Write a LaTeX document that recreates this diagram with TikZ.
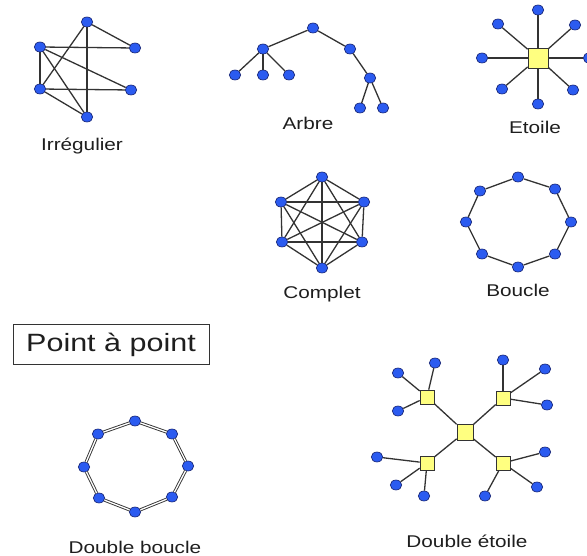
\documentclass[tikz,border=0pt]{standalone}
\usepackage{fontspec}
\setmainfont[FakeStretch=1.22]{Liberation Sans}
\usetikzlibrary{shapes.geometric}
\definecolor{pcblue}{HTML}{2B5BF0}
\definecolor{pcedge}{HTML}{14206E}
\definecolor{hubfill}{HTML}{FFFF80}
\definecolor{lnkcol}{HTML}{333333}
\definecolor{txtcol}{HTML}{1E1E1E}
\begin{document}
\begin{tikzpicture}[x=1pt,y=-1pt,
 pc/.style={ellipse,fill=pcblue,draw=pcedge,line width=0.6pt,minimum width=11.5pt,minimum height=10pt,inner sep=0pt},
 hub/.style={rectangle,fill=hubfill,draw=lnkcol,line width=0.7pt,minimum size=14pt,inner sep=0pt},
 lnk/.style={draw=lnkcol,line width=1.3pt},
 dlnk/.style={draw=lnkcol,line width=0.9pt,double=white,double distance=1.3pt},
 lbl/.style={font=\fontsize{17}{20}\selectfont,text=txtcol,inner sep=0pt,anchor=base}]
\useasboundingbox (0,0) rectangle (587,556);
\clip (0,0) rectangle (587,556);

% ---------- Irregulier ----------
\node[pc] (i1) at (87,22) {};
\node[pc] (i2) at (40,47) {};
\node[pc] (i3) at (135,48) {};
\node[pc] (i4) at (40,89) {};
\node[pc] (i5) at (131,90) {};
\node[pc] (i6) at (87,117) {};
\foreach \a/\b in {i2/i3,i2/i4,i2/i5,i2/i6,i1/i3,i1/i4,i1/i6,i4/i5,i4/i6}
  \draw[lnk] (\a) -- (\b);
\node[lbl] (tirr) at (82,151) {Irrégulier};

% ---------- Arbre ----------
\node[pc] (a0) at (313,28) {};
\node[pc] (a1) at (263,49) {};
\node[pc] (a2) at (350,49) {};
\node[pc] (a3) at (235,75) {};
\node[pc] (a4) at (263,75) {};
\node[pc] (a5) at (289,75) {};
\node[pc] (a6) at (370,78) {};
\node[pc] (a7) at (360,108) {};
\node[pc] (a8) at (383,108) {};
\foreach \a/\b in {a0/a1,a0/a2,a1/a3,a1/a4,a1/a5,a2/a6,a6/a7,a6/a8}
  \draw[lnk] (\a) -- (\b);
\node[lbl] (tarb) at (308,130) {Arbre};

% ---------- Etoile ----------
\node[hub,minimum size=20pt] (e0) at (538,58) {};
\node[pc] (e1) at (538,10) {};
\node[pc] (e2) at (498,24) {};
\node[pc] (e3) at (575,25) {};
\node[pc] (e4) at (482,58) {};
\node[pc] (e5) at (589,58) {};
\node[pc] (e6) at (502,89) {};
\node[pc] (e7) at (573,90) {};
\node[pc] (e8) at (538,104) {};
\foreach \b in {e1,e2,e3,e4,e5,e6,e7,e8}
  \draw[lnk] (e0) -- (\b);
\node[lbl] (teto) at (535,134) {Etoile};

% ---------- Complet ----------
\node[pc] (c1) at (322,177) {};
\node[pc] (c2) at (364,202) {};
\node[pc] (c3) at (362,242) {};
\node[pc] (c4) at (322,268) {};
\node[pc] (c5) at (282,242) {};
\node[pc] (c6) at (281,202) {};
\foreach \a/\b in {c1/c2,c1/c3,c1/c4,c1/c5,c1/c6,c2/c3,c2/c4,c2/c5,c2/c6,c3/c4,c3/c5,c3/c6,c4/c5,c4/c6,c5/c6}
  \draw[lnk] (\a) -- (\b);
\node[lbl] (tcom) at (322,299) {Complet};

% ---------- Boucle ----------
\node[pc] (b1) at (518,177) {};
\node[pc] (b2) at (555,189) {};
\node[pc] (b3) at (571,222) {};
\node[pc] (b4) at (555,254) {};
\node[pc] (b5) at (518,267) {};
\node[pc] (b6) at (482,254) {};
\node[pc] (b7) at (466,222) {};
\node[pc] (b8) at (480,191) {};
\foreach \a/\b in {b1/b2,b2/b3,b3/b4,b4/b5,b5/b6,b6/b7,b7/b8,b8/b1}
  \draw[lnk] (\a) -- (\b);
\node[lbl] (tbou) at (518,297) {Boucle};

% ---------- Point a point ----------
\node[draw=lnkcol,line width=1pt,minimum width=196pt,minimum height=40pt,inner sep=0pt,
  font=\fontsize{25}{28}\selectfont,text=txtcol] (tpap) at (111,345) {Point à point};

% ---------- Double boucle ----------
\node[pc] (d1) at (135,421) {};
\node[pc] (d2) at (172,434) {};
\node[pc] (d3) at (188,466) {};
\node[pc] (d4) at (172,497) {};
\node[pc] (d5) at (135,512) {};
\node[pc] (d6) at (99,498) {};
\node[pc] (d7) at (84,467) {};
\node[pc] (d8) at (98,434) {};
\foreach \a/\b in {d1/d2,d2/d3,d3/d4,d4/d5,d5/d6,d6/d7,d7/d8,d8/d1}
  \draw[dlnk] (\a) -- (\b);
\node[lbl] (tdbo) at (135,553) {Double boucle};

% ---------- Double etoile ----------
\node[hub,minimum size=16pt] (s0) at (465,432) {};
\node[hub] (sa) at (427,397) {};
\node[hub] (sb) at (503,398) {};
\node[hub] (sc) at (427,463) {};
\node[hub] (sd) at (503,463) {};
\node[pc] (la1) at (398,373) {};
\node[pc] (la2) at (435,363) {};
\node[pc] (la3) at (398,411) {};
\node[pc] (lb1) at (503,360) {};
\node[pc] (lb2) at (545,369) {};
\node[pc] (lb3) at (547,405) {};
\node[pc] (lc1) at (377,457) {};
\node[pc] (lc2) at (396,485) {};
\node[pc] (lc3) at (424,496) {};
\node[pc] (ld1) at (545,452) {};
\node[pc] (ld2) at (537,487) {};
\node[pc] (ld3) at (485,496) {};
\foreach \a/\b in {s0/sa,s0/sb,s0/sc,s0/sd,sa/la1,sa/la2,sa/la3,sb/lb1,sb/lb2,sb/lb3,sc/lc1,sc/lc2,sc/lc3,sd/ld1,sd/ld2,sd/ld3}
  \draw[lnk] (\a) -- (\b);
\node[lbl] (tdet) at (467,547) {Double étoile};
\end{tikzpicture}
\end{document}
